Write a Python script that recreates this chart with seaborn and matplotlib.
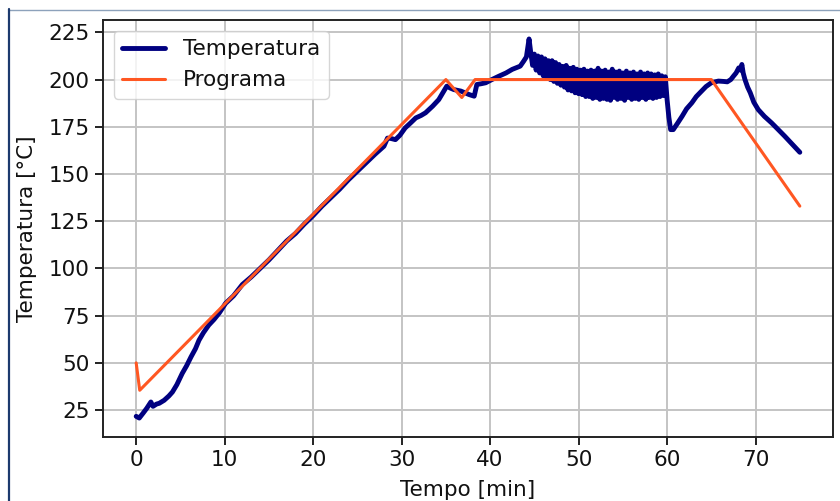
import seaborn as sns
import matplotlib
matplotlib.use("Agg")
from matplotlib import pyplot as plt
from matplotlib.lines import Line2D

# measured oven temperature [min, degC]
temp_t = [0, 0.35, 0.8, 1.2, 1.66, 1.9, 2.3, 2.6, 3.16, 3.7, 4.1, 4.6, 5.2, 5.7,
          6.2, 6.7, 7.1, 7.6, 8.2, 8.8, 9.4, 10.1, 11, 12, 13, 14, 15, 16, 17,
          18, 19, 20, 21, 22, 23, 24, 25, 26, 27, 28.0, 28.4, 28.8, 29.3, 29.8,
          30.4, 31.0, 31.6, 32.2, 32.7, 33.5, 34.2, 35.1, 35.5, 35.9, 36.7,
          37.6, 38.2, 38.5, 39.0, 39.5, 40.2, 41.0, 41.8, 42.5, 43.4, 43.8,
          44.1, 44.4,
          44.6, 44.8, 45.0, 45.2, 45.4, 45.6, 45.8, 46.0, 46.2, 46.4,
          46.6, 46.8, 47.0, 47.2, 47.4, 47.6, 47.8, 48.0, 48.2, 48.4,
          48.6, 48.8, 49.0, 49.2, 49.4, 49.6, 49.8, 50.0, 50.2, 50.4,
          50.6, 50.8, 51.0, 51.2, 51.4, 51.6, 51.8, 52.0, 52.2, 52.4,
          52.6, 52.8, 53.0, 53.2, 53.4, 53.6, 53.8, 54.0, 54.2, 54.4,
          54.6, 54.8, 55.0, 55.2, 55.4, 55.6, 55.8, 56.0, 56.2, 56.4,
          56.6, 56.8, 57.0, 57.2, 57.4, 57.6, 57.8, 58.0, 58.2, 58.4,
          58.6, 58.8, 59.0, 59.2, 59.4, 59.6, 59.8,
          60.0, 60.2, 60.4, 60.7, 61.2, 61.7, 62.2, 62.8, 63.3, 63.9, 64.4,
          65.0, 65.8, 66.4, 66.8, 67.2, 67.5, 67.8, 68.1, 68.3, 68.45, 68.6,
          68.8, 69.1, 69.4, 69.8, 70.3, 71.0, 71.8, 72.5, 73.3, 74.1, 75.0]
temp_v = [21.7, 20.8, 23.5, 26, 29.3, 27, 28.2, 28.6, 30.2, 32.5, 34.6, 38.5,
          44.4, 48.5, 53.2, 57.5, 62, 66, 70, 73, 76.5, 81.5, 85.5, 91.5, 95.5,
          100, 104.5, 109.5, 114.5, 118.5, 123.5, 128, 133, 137.5, 142, 147,
          151.5, 156, 160.5, 164.7, 169, 168.8, 168.2, 170.5, 174.4, 177, 179.7,
          181, 182.4, 185.9, 189.4, 196.5, 195.5, 194.7, 193.9, 192.1, 191.2,
          197.4, 197.8, 198.3, 200, 201.8, 203.5, 205.4, 207.1, 209.8, 212,
          221.5,
          214, 207.5, 213.5, 205, 212.5, 203.5, 212, 202, 211, 201,
          210, 200, 210, 199, 209, 198, 208, 197, 207, 196,
          207.5, 194.5, 206, 194, 206.5, 193, 205.5, 192.5, 205, 192,
          205.5, 191, 204.5, 191, 205, 190, 204.5, 190.5, 206, 189.5,
          204.5, 190, 205, 189.5, 204, 189, 205.5, 190.5, 204, 189.5,
          204.5, 190, 203.5, 189, 204.5, 190.5, 203.5, 189.5, 204, 190,
          203, 189.5, 204, 190.5, 203, 189.5, 203.5, 190.5, 203, 190,
          202.5, 190.5, 203, 191, 202, 191.5, 201.5,
          189.4, 180, 173.5, 173.5, 177, 180.6, 184.5, 187.7, 191, 193.9, 196.3,
          198.3, 199.2, 199, 198.8, 200, 201.8, 203.5, 206.2, 205, 208, 203.5,
          200, 196, 193, 188, 184.1, 180.5, 177.1, 173.8, 170, 166, 161.5]

# heating program setpoints
prog_t = [0, 0.4, 35, 36.8, 38.3, 65, 75]
prog_v = [50, 35.5, 200, 190.5, 200, 200, 133]

xticks = [0, 10, 20, 30, 40, 50, 60, 70]
yticks = [25, 50, 75, 100, 125, 150, 175, 200, 225]

sns.set_style("ticks")
plt.rcParams['font.family'] = ['DejaVu Sans']
plt.rcParams['font.size'] = 15.5
plt.rcParams['text.color'] = '#111111'
plt.rcParams['axes.labelcolor'] = '#111111'
plt.rcParams['path.simplify'] = False

fig = plt.figure(figsize=(8.4, 5.01), dpi=100)
ax = fig.add_axes([103 / 840, 64 / 501, 730 / 840, 417 / 501])

sns.lineplot(x=temp_t, y=temp_v, estimator=None, sort=False, color='#000080',
             lw=3.5, label='Temperatura', ax=ax)
sns.lineplot(x=prog_t, y=prog_v, estimator=None, sort=False, color='#ff5722',
             lw=2.2, label='Programa', ax=ax)

ax.set_xticks(xticks)
ax.set_yticks(yticks)
ax.grid(True, color='#c4c4c4', lw=1.4)
ax.set_axisbelow(True)
for s in ax.spines.values():
    s.set_linewidth(1.4)
    s.set_color('#222222')
ax.tick_params(length=6, width=1.4, color='#222222', labelsize=15.5,
               labelcolor='#111111')
ax.set_xlabel("Tempo [min]", fontsize=15.5, labelpad=7)
ax.set_ylabel("Temperatura [°C]", fontsize=15.5, labelpad=8)
ax.legend(loc='upper left', fontsize=15.5, framealpha=0.8)

# window border of the screenshot
fig.add_artist(Line2D([9 / 840, 1], [1 - 9.5 / 501, 1 - 9.5 / 501],
                      color='#8da2bb', lw=1))
fig.add_artist(Line2D([9 / 840, 9 / 840], [0, 1 - 9 / 501],
                      color='#1c3a6e', lw=1.6))

fig.savefig("out.png", dpi=100)
